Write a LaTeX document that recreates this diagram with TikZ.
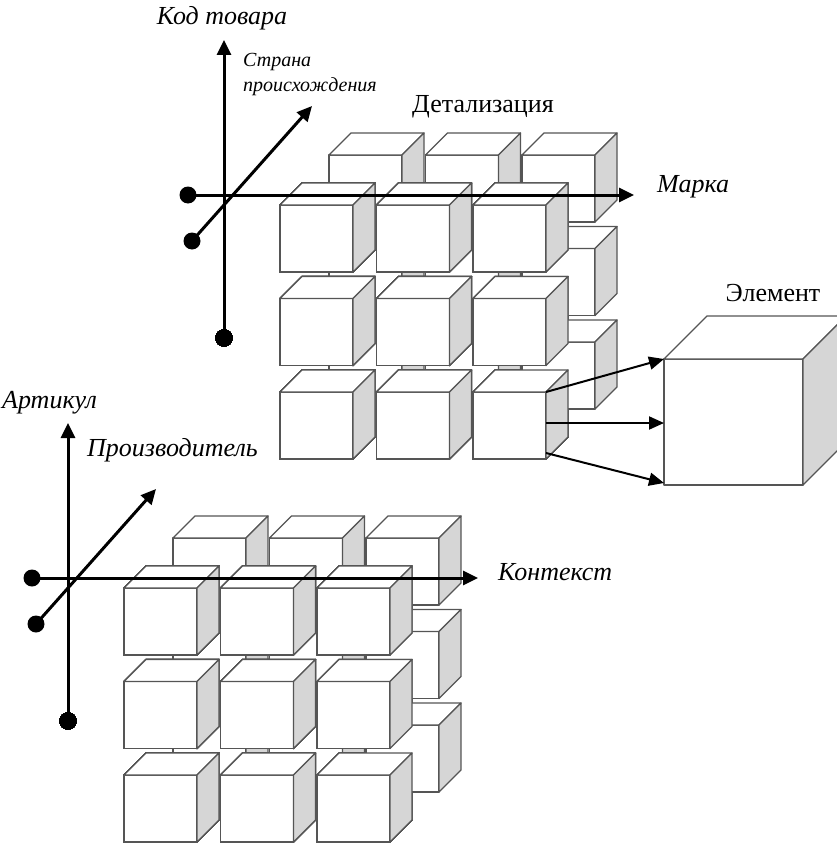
\documentclass[tikz,border=0pt]{standalone}
\usepackage{fontspec}
\setmainfont{Liberation Serif}
\usetikzlibrary{arrows.meta,positioning,calc}
\definecolor{cEdge}{HTML}{555555}
\definecolor{cSide}{HTML}{D6D6D6}
\tikzset{
  face/.style     = {draw=cEdge, line width=1.3pt, fill=white, line join=round},
  sideface/.style = {face, fill=cSide},
  axis/.style     = {line width=3pt, -{Triangle[length=15pt,width=14pt]}},
  dot/.style      = {circle, fill=black, inner sep=0pt, minimum size=17pt},
  ar/.style       = {line width=2pt, -{Triangle[length=15pt,width=13pt]}},
  lbl/.style      = {font=\fontsize{26}{28}\selectfont\itshape, inner sep=0pt},
  lblsm/.style    = {font=\fontsize{20}{25}\selectfont\itshape, inner sep=0pt,
                     align=left},
  ttl/.style      = {font=\fontsize{26}{28}\selectfont, inner sep=0pt},
}
% one cube: #1,#2 = top left of front face, #3 = width, #4 = height, #5 = depth
\newcommand{\boxcube}[5]{%
  \draw[face] (#1,#2) rectangle ++(#3,#4);
  \draw[face] (#1,#2) -- ++(#5,-#5) -- ++(#3,0) -- ++(-#5,#5) -- cycle;
  \draw[sideface] (#1+#3,#2) -- ++(#5,-#5) -- ++(0,#4) -- ++(-#5,#5) -- cycle;
}

\begin{document}
\begin{tikzpicture}[x=1pt, y=-1pt]
  \useasboundingbox (0,0) rectangle (837,843);
  \clip (0,0) rectangle (837,843);
  % the two cube sets, each with its axes
  \foreach \sx/\sy/\nm in {280/205/t, 124/588/b}{
    \begin{scope}[shift={(\sx,\sy)}]
      % back layer
      \foreach \i in {0,1,2}
        \foreach \j in {0,1,2}
          \boxcube{49+96.5*\i}{-50+93.5*\j}{73}{67}{22}
      % front layer
      \foreach \i in {0,1,2}
        \foreach \j in {0,1,2}
          \boxcube{96.5*\i}{93.5*\j}{73}{67}{22}
      % axes
      \node[dot] (\nm-vdot) at (-56,133) {};
      \node[dot] (\nm-hdot) at (-92,-10) {};
      \node[dot] (\nm-ddot) at (-88,36) {};
      \coordinate (\nm-vtip) at (-56,-165);
      \coordinate (\nm-htip) at (354,-10);
      \coordinate (\nm-dtip) at (32,-99);
      \draw[axis] (\nm-vdot.center) -- (\nm-vtip);
      \draw[axis] (\nm-hdot.center) -- (\nm-htip);
      \draw[axis] (\nm-ddot.center) -- (\nm-dtip);
    \end{scope}
  }
  % the element
  \boxcube{664}{359}{139}{126}{43}
  \coordinate (src-a) at (546,392);
  \coordinate (src-b) at (546,423);
  \coordinate (src-c) at (546,453);
  \coordinate (el-a) at (664,359);
  \coordinate (el-b) at (664,423);
  \coordinate (el-c) at (664,483);
  \draw[ar] (src-a) -- (el-a);
  \draw[ar] (src-b) -- (el-b);
  \draw[ar] (src-c) -- (el-c);
  % labels
  \node[lbl] (kod) at (222,18) {Код товара};
  \node[lblsm, anchor=west] (strana) at (243,75) {Страна\\происхождения};
  \node[ttl] (detal) at (483,107) {Детализация};
  \node[lbl, anchor=west] (marka) at (657,187) {Марка};
  \node[ttl] (elem) at (773,293) {Элемент};
  \node[lbl, anchor=west] (artikul) at (2,403) {Артикул};
  \node[lbl, anchor=west] (proizv) at (87,450) {Производитель};
  \node[lbl, anchor=west] (kontekst) at (498,572) {Контекст};
\end{tikzpicture}
\end{document}
